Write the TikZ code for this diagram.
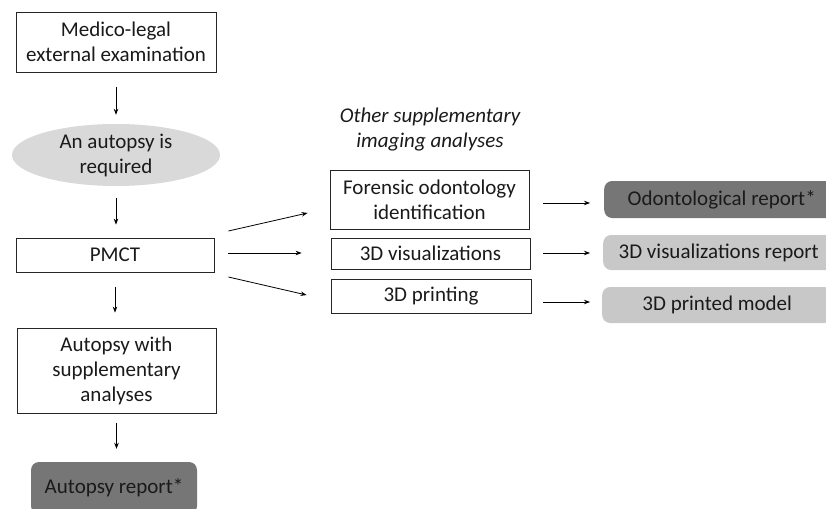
\documentclass[tikz,border=0pt]{standalone}
\usepackage{fontspec}
\setmainfont{Carlito}
\usetikzlibrary{arrows.meta,shapes.geometric}
\definecolor{darkbox}{HTML}{767676}
\definecolor{lightbox}{HTML}{C8C8C8}
\definecolor{ovalfill}{HTML}{D9D9D9}
\definecolor{inktext}{HTML}{1A1A1A}
\tikzset{
  stepbox/.style={draw=black!85, line width=0.8pt, align=center, inner sep=0pt},
  reportbox/.style={rounded corners=8pt, align=center, inner sep=0pt, minimum height=37pt},
  flow/.style={-{Stealth[length=6pt,width=4.5pt]}, line width=0.8pt}
}
\begin{document}
\begin{tikzpicture}[x=1pt,y=-1pt,font=\fontsize{21}{25}\selectfont,text=inktext]
  \useasboundingbox (0,0) rectangle (826,508);
  \clip (0,0) rectangle (826,508);
  \fill[white] (0,0) rectangle (826,508);
  % left column
  \node[stepbox, minimum width=200, minimum height=60] (exam) at (116,42) {Medico-legal\\external examination};
  \node[ellipse, fill=ovalfill, minimum width=208, minimum height=62, inner sep=0pt, align=center] (required) at (116,155) {An autopsy is\\required};
  \node[stepbox, minimum width=198, minimum height=34] (pmct) at (115,255) {PMCT};
  \node[stepbox, minimum width=199, minimum height=85] (autopsy) at (116.5,370.5) {Autopsy with\\supplementary\\analyses};
  \node[reportbox, fill=darkbox, minimum width=166, minimum height=52] (autreport) at (114,488) {Autopsy report*};
  % middle column
  \node[align=center, font=\fontsize{21}{25}\selectfont\itshape] (other) at (430,130) {Other supplementary\\imaging analyses};
  \node[stepbox, minimum width=199, minimum height=59] (odonto) at (429.5,199.5) {Forensic odontology\\identification};
  \node[stepbox, minimum width=199, minimum height=31] (visual) at (430.5,253.5) {3D visualizations};
  \node[stepbox, minimum width=200, minimum height=34] (printing) at (431,296) {3D printing};
  % right column
  \node[reportbox, fill=darkbox, minimum width=235, anchor=west] (odreport) at (604,199.5) {Odontological report*};
  \node[reportbox, fill=lightbox, minimum width=231, minimum height=35, anchor=west] (visreport) at (603,252.5) {3D visualizations report};
  \node[reportbox, fill=lightbox, minimum width=230, minimum height=36, anchor=west] (printmodel) at (602,305) {3D printed model};
  % arrows
  \draw[flow, shorten <=15pt, shorten >=9pt] (exam.south) -- (exam.south |- required.north);
  \draw[flow, shorten <=12pt, shorten >=13pt] (required.south) -- (required.south |- pmct.north);
  \draw[flow, shorten <=15pt, shorten >=15pt] (pmct.south) -- (pmct.south |- autopsy.north);
  \draw[flow, shorten <=10pt, shorten >=13pt] (autopsy.south) -- (autopsy.south |- autreport.north);
  \draw[flow] ([shift={(14,-24)}]pmct.east) -- ([shift={(-22,13.5)}]odonto.west);
  \draw[flow] ([shift={(14,-2)}]pmct.east) -- ([shift={(-29,-0.5)}]visual.west);
  \draw[flow] ([shift={(14,22)}]pmct.east) -- ([shift={(-24,-1)}]printing.west);
  \draw[flow] ([shift={(14,3.5)}]odonto.east) -- ([shift={(-14,3.5)}]odreport.west);
  \draw[flow] ([shift={(13,-0.5)}]visual.east) -- ([shift={(-13,0.5)}]visreport.west);
  \draw[flow] ([shift={(12,6)}]printing.east) -- ([shift={(-12,-3)}]printmodel.west);
\end{tikzpicture}
\end{document}
